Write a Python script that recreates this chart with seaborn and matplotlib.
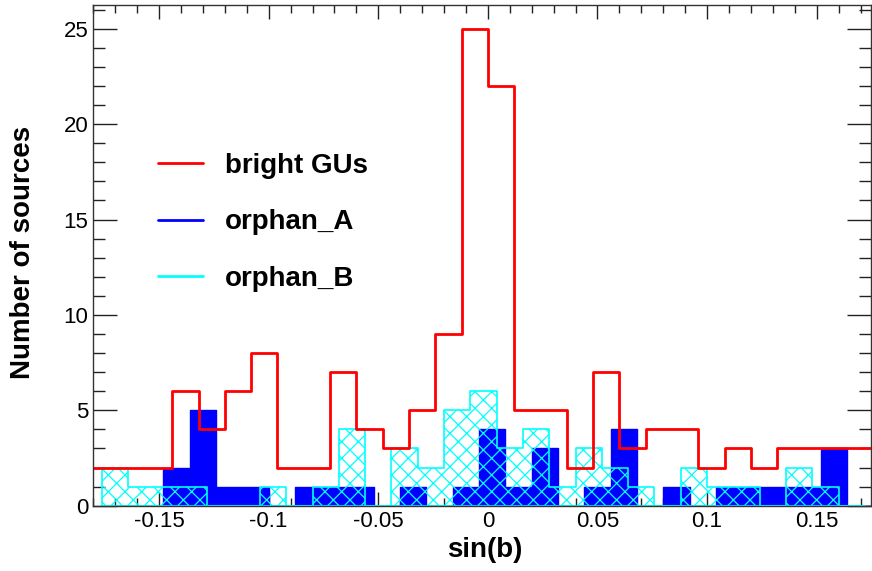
import numpy as np
import pandas as pd
import matplotlib
matplotlib.use("Agg")
import matplotlib.pyplot as plt
from matplotlib.lines import Line2D
from matplotlib.ticker import MultipleLocator, FuncFormatter
import seaborn as sns

# ---------------- data ----------------
bin_width = 0.012
red_start = -0.180
red_counts = [2, 2, 2, 6, 4, 6, 8, 2, 2, 7, 4, 3, 5, 9, 25, 22, 5, 5, 2, 7,
              3, 4, 4, 2, 3, 2, 3, 3, 3, 3]
blue_start = -0.172
blue_counts = [0, 0, 2, 5, 1, 1, 0, 1, 1, 1, 0, 1, 0, 1, 4, 1, 3, 0, 1, 4,
               0, 1, 0, 1, 1, 1, 1, 3, 0]
cyan_start = -0.176
cyan_counts = [2, 1, 1, 1, 0, 0, 1, 0, 1, 4, 0, 3, 2, 5, 6, 3, 4, 1, 3, 2,
               1, 0, 2, 1, 1, 0, 2, 1, 0]
labels = ["bright GUs", "orphan_A", "orphan_B"]
x_ticks = [-0.15, -0.1, -0.05, 0, 0.05, 0.1, 0.15]
y_ticks = [0, 5, 10, 15, 20, 25]


def hist_frame(start, counts):
    counts = np.asarray(counts, dtype=float)
    edges = start + bin_width * np.arange(len(counts) + 1)
    centers = 0.5 * (edges[:-1] + edges[1:])
    return pd.DataFrame({"x": centers, "w": counts}), [float(e) for e in edges]


red_df, red_edges = hist_frame(red_start, red_counts)
blue_df, blue_edges = hist_frame(blue_start, blue_counts)
cyan_df, cyan_edges = hist_frame(cyan_start, cyan_counts)

# ---------------- style ----------------
sns.set_theme(style="ticks")
plt.rcParams["font.family"] = ["Liberation Sans", "DejaVu Sans"]
plt.rcParams["text.color"] = "black"
plt.rcParams["axes.labelcolor"] = "black"
plt.rcParams["hatch.color"] = "#00ffff"
plt.rcParams["hatch.linewidth"] = 0.9

RED, BLUE, CYAN = "#ff0000", "#0000ff", "#00ffff"

fig = plt.figure(figsize=(8.72, 5.71), dpi=100)
ax = fig.add_axes([0.1070, 0.1144, 0.8924, 0.8769])
ax.set_axisbelow(True)

sns.histplot(data=blue_df, x="x", weights="w", bins=blue_edges,
             element="step", fill=True, color=BLUE, alpha=1.0,
             edgecolor=BLUE, linewidth=1.0, ax=ax)
sns.histplot(data=cyan_df, x="x", weights="w", bins=cyan_edges,
             element="step", fill=True, color=CYAN,
             facecolor=(0, 0, 0, 0), edgecolor=CYAN, hatch="xx",
             linewidth=1.2, ax=ax)
sns.histplot(data=red_df, x="x", weights="w", bins=red_edges,
             element="step", fill=False, color=RED, linewidth=2.0, ax=ax)

ax.set_xlim(-0.18, 0.175)
ax.set_ylim(0, 26.25)

ax.set_xticks(x_ticks)
ax.set_yticks(y_ticks)
ax.xaxis.set_minor_locator(MultipleLocator(0.01))
ax.yaxis.set_minor_locator(MultipleLocator(1))
ax.xaxis.set_major_formatter(FuncFormatter(lambda v, p: "%g" % round(v, 3)))

ax.tick_params(axis="both", which="both", direction="in", top=True,
               right=True, colors="#222222", labelcolor="black",
               labelsize=16, width=1.0)
ax.tick_params(axis="x", which="major", length=10, pad=3.5)
ax.tick_params(axis="x", which="minor", length=5.5)
ax.tick_params(axis="y", which="major", length=17, pad=3.5)
ax.tick_params(axis="y", which="minor", length=8.5)
for s in ax.spines.values():
    s.set_color("#333333")
    s.set_linewidth(1.0)

ax.set_xlabel("sin(b)", fontsize=20, fontweight="bold", color="black")
ax.set_ylabel("Number of sources", fontsize=20, fontweight="bold",
              color="black")
ax.xaxis.set_label_coords(0.503, -0.0885)
ax.xaxis.label.set_va("center")
ax.yaxis.set_label_coords(-0.0903, 0.5067)
ax.yaxis.label.set_va("center")

handles = [Line2D([0], [0], color=c, lw=2) for c in (RED, BLUE, CYAN)]
leg = ax.legend(handles, labels, loc="upper left",
                bbox_to_anchor=(0.0836, 0.704),
                frameon=False, borderaxespad=0, borderpad=0,
                prop={"weight": "bold", "size": 20}, handlelength=1.62,
                handletextpad=0.78, labelspacing=1.09)
for t in leg.get_texts():
    t.set_color("black")

fig.savefig("out.png", dpi=100)
